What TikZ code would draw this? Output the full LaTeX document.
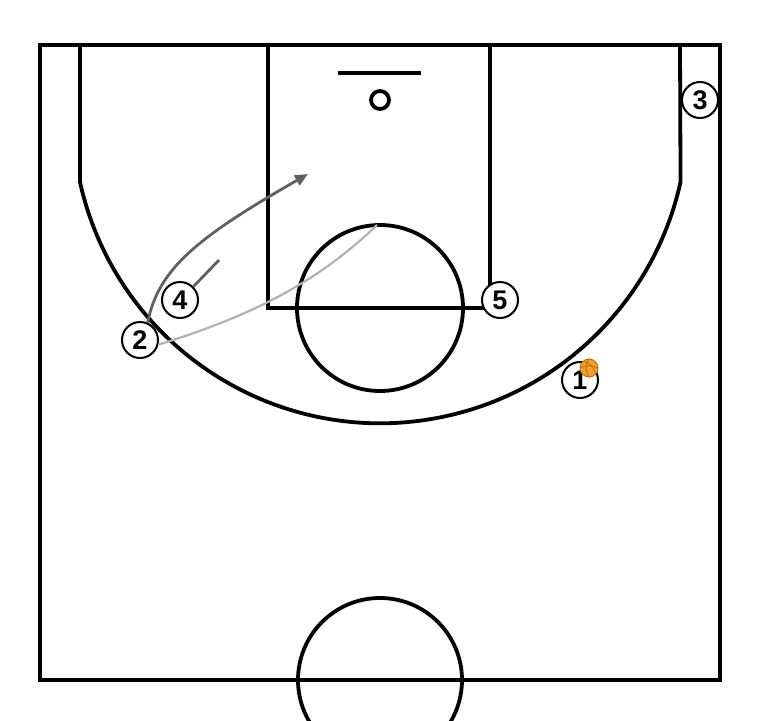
\documentclass[tikz,border=0pt]{standalone}
\usepackage{fontspec}
\setmainfont{Liberation Sans}
\usetikzlibrary{arrows.meta}
\definecolor{ballorange}{HTML}{F0A028}
\definecolor{ballline}{HTML}{B86A10}
\tikzset{
  court/.style={line width=3.8pt, black},
  player/.style={circle, draw=black, line width=2pt, fill=white, minimum size=36pt, inner sep=0pt, font=\fontsize{27}{27}\selectfont\bfseries},
  cutline/.style={line width=2.8pt, draw=gray!75!black, -{Triangle[length=13pt,width=11pt]}},
  passline/.style={line width=2.2pt, draw=black!30},
  screenline/.style={line width=2.8pt, draw=gray!75!black},
}
\begin{document}
\begin{tikzpicture}[x=1pt,y=-1pt]
\useasboundingbox (0,0) rectangle (760,720);
\clip (0,0) rectangle (760,720);
% court
\draw[court] (40,45) rectangle (720,680);
\draw[court] (80,45) -- (80,182) arc[start angle=192.44, end angle=347.56, x radius=307.5, y radius=-307.5] -- (680,45);
\draw[court] (268,45) rectangle (490,308);
\draw[court] (380,308) circle[radius=83];
\draw[court] (338,73) -- (421,73);
\draw[court] (380,100) circle[radius=9];
\draw[court] (380,680) circle[radius=82];
% players
\node[player] (p3) at (700,100) {3};
\node[player] (p5) at (500,300) {5};
\node[player] (p4) at (180,300) {4};
\node[player] (p2) at (140,340) {2};
\node[player] (p1) at (580,380) {1};
% ball
\node[circle, fill=ballorange, draw=ballline, line width=0.8pt, minimum size=18pt, inner sep=0pt] (ball) at (589,368) {};
\draw[ballline, line width=0.7pt] (ball.north) .. controls (585,365) and (585,371) .. (ball.south);
\draw[ballline, line width=0.7pt] (ball.west) .. controls (586,365) and (592,365) .. (ball.east);
\draw[ballline, line width=0.7pt] (ball.north west) .. controls (590,362) and (594,368) .. (ball.south east);
% movements
\coordinate (cutend) at (308,174);
\coordinate (passend) at (377,225);
\coordinate (screenend) at (219,260);
\draw[cutline] (p2.66) .. controls (158,268) and (200,236) .. (cutend);
\draw[passline] (p2.-14) .. controls (255,315) and (320,280) .. (passend);
\draw[screenline] (p4.45) -- (screenend);
\end{tikzpicture}
\end{document}
